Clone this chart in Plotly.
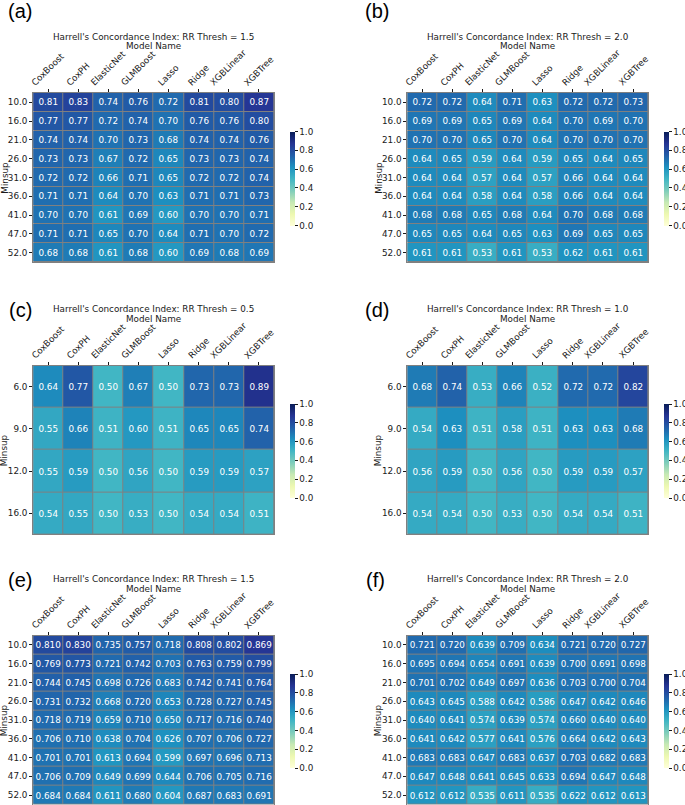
import plotly.graph_objects as go

W, H = 685, 805

models = ["CoxBoost", "CoxPH", "ElasticNet", "GLMBoost", "Lasso", "Ridge", "XGBLinear", "XGBTree"]
minsup_long = ["10.0", "16.0", "21.0", "26.0", "31.0", "36.0", "41.0", "47.0", "52.0"]
minsup_short = ["6.0", "9.0", "12.0", "16.0"]

# (a) RR Thresh = 1.5, 2 decimals
z_a = [
    [0.81, 0.83, 0.74, 0.76, 0.72, 0.81, 0.80, 0.87],
    [0.77, 0.77, 0.72, 0.74, 0.70, 0.76, 0.76, 0.80],
    [0.74, 0.74, 0.70, 0.73, 0.68, 0.74, 0.74, 0.76],
    [0.73, 0.73, 0.67, 0.72, 0.65, 0.73, 0.73, 0.74],
    [0.72, 0.72, 0.66, 0.71, 0.65, 0.72, 0.72, 0.74],
    [0.71, 0.71, 0.64, 0.70, 0.63, 0.71, 0.71, 0.73],
    [0.70, 0.70, 0.61, 0.69, 0.60, 0.70, 0.70, 0.71],
    [0.71, 0.71, 0.65, 0.70, 0.64, 0.71, 0.70, 0.72],
    [0.68, 0.68, 0.61, 0.68, 0.60, 0.69, 0.68, 0.69],
]
# (b) RR Thresh = 2.0, 2 decimals
z_b = [
    [0.72, 0.72, 0.64, 0.71, 0.63, 0.72, 0.72, 0.73],
    [0.69, 0.69, 0.65, 0.69, 0.64, 0.70, 0.69, 0.70],
    [0.70, 0.70, 0.65, 0.70, 0.64, 0.70, 0.70, 0.70],
    [0.64, 0.65, 0.59, 0.64, 0.59, 0.65, 0.64, 0.65],
    [0.64, 0.64, 0.57, 0.64, 0.57, 0.66, 0.64, 0.64],
    [0.64, 0.64, 0.58, 0.64, 0.58, 0.66, 0.64, 0.64],
    [0.68, 0.68, 0.65, 0.68, 0.64, 0.70, 0.68, 0.68],
    [0.65, 0.65, 0.64, 0.65, 0.63, 0.69, 0.65, 0.65],
    [0.61, 0.61, 0.53, 0.61, 0.53, 0.62, 0.61, 0.61],
]
# (c) RR Thresh = 0.5
z_c = [
    [0.64, 0.77, 0.50, 0.67, 0.50, 0.73, 0.73, 0.89],
    [0.55, 0.66, 0.51, 0.60, 0.51, 0.65, 0.65, 0.74],
    [0.55, 0.59, 0.50, 0.56, 0.50, 0.59, 0.59, 0.57],
    [0.54, 0.55, 0.50, 0.53, 0.50, 0.54, 0.54, 0.51],
]
# (d) RR Thresh = 1.0
z_d = [
    [0.68, 0.74, 0.53, 0.66, 0.52, 0.72, 0.72, 0.82],
    [0.54, 0.63, 0.51, 0.58, 0.51, 0.63, 0.63, 0.68],
    [0.56, 0.59, 0.50, 0.56, 0.50, 0.59, 0.59, 0.57],
    [0.54, 0.54, 0.50, 0.53, 0.50, 0.54, 0.54, 0.51],
]
# (e) RR Thresh = 1.5, 3 decimals
z_e = [
    [0.810, 0.830, 0.735, 0.757, 0.718, 0.808, 0.802, 0.869],
    [0.769, 0.773, 0.721, 0.742, 0.703, 0.763, 0.759, 0.799],
    [0.744, 0.745, 0.698, 0.726, 0.683, 0.742, 0.741, 0.764],
    [0.731, 0.732, 0.668, 0.720, 0.653, 0.728, 0.727, 0.745],
    [0.718, 0.719, 0.659, 0.710, 0.650, 0.717, 0.716, 0.740],
    [0.706, 0.710, 0.638, 0.704, 0.626, 0.707, 0.706, 0.727],
    [0.701, 0.701, 0.613, 0.694, 0.599, 0.697, 0.696, 0.713],
    [0.706, 0.709, 0.649, 0.699, 0.644, 0.706, 0.705, 0.716],
    [0.684, 0.684, 0.611, 0.680, 0.604, 0.687, 0.683, 0.691],
]
# (f) RR Thresh = 2.0, 3 decimals
z_f = [
    [0.721, 0.720, 0.639, 0.709, 0.634, 0.721, 0.720, 0.727],
    [0.695, 0.694, 0.654, 0.691, 0.639, 0.700, 0.691, 0.698],
    [0.701, 0.702, 0.649, 0.697, 0.636, 0.703, 0.700, 0.704],
    [0.643, 0.645, 0.588, 0.642, 0.586, 0.647, 0.642, 0.646],
    [0.640, 0.641, 0.574, 0.639, 0.574, 0.660, 0.640, 0.640],
    [0.641, 0.642, 0.577, 0.641, 0.576, 0.664, 0.642, 0.643],
    [0.683, 0.683, 0.647, 0.683, 0.637, 0.703, 0.682, 0.683],
    [0.647, 0.648, 0.641, 0.645, 0.633, 0.694, 0.647, 0.648],
    [0.612, 0.612, 0.535, 0.611, 0.535, 0.622, 0.612, 0.613],
]

ylgnbu = ["#ffffd9", "#edf8b1", "#c7e9b4", "#7fcdbb", "#41b6c4",
          "#1d91c0", "#225ea8", "#253494", "#081d58"]
cscale = [[i / 8, c] for i, c in enumerate(ylgnbu)]

FONT = "DejaVu Sans"
FS = 8.8
TXT = "#1a1a1a"

# panels: (letter, z, rows, fmt, thresh, left px, top px, bottom px)
panels = [
    ("(a)", z_a, minsup_long, ".2f", "1.5", 33.2, 93.0, 262.0),
    ("(b)", z_b, minsup_long, ".2f", "2.0", 407.3, 93.0, 262.0),
    ("(c)", z_c, minsup_short, ".2f", "0.5", 33.2, 365.6, 534.4),
    ("(d)", z_d, minsup_short, ".2f", "1.0", 407.3, 365.6, 534.4),
    ("(e)", z_e, minsup_long, ".3f", "1.5", 33.2, 635.6, 804.5),
    ("(f)", z_f, minsup_long, ".3f", "2.0", 407.3, 635.6, 804.5),
]
HM_W = 240.8


def px_x(p):
    return p / W


def px_y(p):
    return 1 - p / H


fig = go.Figure()
annotations = []
layout_axes = {}

for i, (letter, z, rows, fmt, thr, left, top, bottom) in enumerate(panels):
    n = i + 1
    xa = "x" if n == 1 else f"x{n}"
    ya = "y" if n == 1 else f"y{n}"
    right = left + HM_W
    cb_left = right + 15.5
    cb_mid = (top + bottom) / 2 + 1

    fig.add_trace(go.Heatmap(
        z=z, x=models, y=rows,
        xaxis=xa, yaxis=ya,
        colorscale=cscale, zmin=0, zmax=1,
        xgap=1, ygap=1,
        texttemplate="%{z:" + fmt + "}",
        textfont=dict(family=FONT, size=FS, color="white"),
        hoverinfo="skip",
        colorbar=dict(
            x=px_x(cb_left), xanchor="left", xpad=0,
            y=px_y(cb_mid), yanchor="middle", ypad=0,
            len=94, lenmode="pixels", thickness=5,
            outlinewidth=0,
            tickvals=[0, 0.2, 0.4, 0.6, 0.8, 1.0],
            ticktext=["0.0", "0.2", "0.4", "0.6", "0.8", "1.0"],
            ticks="outside", ticklen=3, tickwidth=0.8, tickcolor=TXT,
            tickfont=dict(family=FONT, size=FS, color=TXT),
        ),
    ))

    xkey = "xaxis" if n == 1 else f"xaxis{n}"
    ykey = "yaxis" if n == 1 else f"yaxis{n}"
    layout_axes[xkey] = dict(
        domain=[px_x(left), px_x(right)], anchor=ya, side="top",
        type="category", categoryorder="array", categoryarray=models,
        range=[-0.5, len(models) - 0.5], autorange=False,
        showticklabels=False, ticks="outside", ticklen=3, tickwidth=0.8,
        tickcolor=TXT, showgrid=False, zeroline=False,
        showline=True, linecolor="gray", linewidth=1, mirror=True,
        fixedrange=True,
    )
    layout_axes[ykey] = dict(
        domain=[px_y(bottom), px_y(top)], anchor=xa,
        type="category", categoryorder="array", categoryarray=rows,
        range=[len(rows) - 0.5, -0.5], autorange=False,
        ticks="outside", ticklen=3, tickwidth=0.8, tickcolor=TXT,
        tickfont=dict(family=FONT, size=FS, color=TXT),
        showgrid=False, zeroline=False,
        showline=True, linecolor="gray", linewidth=1, mirror=True,
        fixedrange=True,
    )

    # rotated x tick labels
    for m in models:
        annotations.append(dict(
            x=m, xref=xa, y=px_y(top - 4), yref="paper",
            text=m, textangle=-45, showarrow=False,
            xanchor="center", yanchor="bottom",
            font=dict(family=FONT, size=FS, color=TXT),
            borderpad=0,
        ))

    cx = px_x(left + HM_W / 2)
    annotations.append(dict(
        x=cx, xref="paper", y=px_y(top - 56.3), yref="paper",
        text=f"Harrell's Concordance Index: RR Thresh = {thr}",
        showarrow=False, xanchor="center", yanchor="middle",
        font=dict(family=FONT, size=FS, color=TXT),
    ))
    annotations.append(dict(
        x=cx, xref="paper", y=px_y(top - 47), yref="paper",
        text="Model Name", showarrow=False, xanchor="center", yanchor="middle",
        font=dict(family=FONT, size=FS, color=TXT),
    ))
    annotations.append(dict(
        x=px_x(left - 29), xref="paper", y=px_y((top + bottom) / 2), yref="paper",
        text="Minsup", textangle=-90, showarrow=False,
        xanchor="center", yanchor="middle",
        font=dict(family=FONT, size=FS, color=TXT),
    ))

letter_pos = {
    "(a)": (20, 11), "(b)": (377, 11),
    "(c)": (20, 310), "(d)": (377, 310),
    "(e)": (20, 579.5), "(f)": (375, 579.5),
}
for letter, (lx, ly) in letter_pos.items():
    annotations.append(dict(
        x=px_x(lx), xref="paper", y=px_y(ly), yref="paper",
        text=letter, showarrow=False, xanchor="center", yanchor="middle",
        font=dict(family="Liberation Sans", size=20, color="black"),
    ))

fig.update_layout(
    width=W, height=H, autosize=False,
    margin=dict(l=0, r=0, t=0, b=0, pad=0, autoexpand=False),
    paper_bgcolor="white", plot_bgcolor="gray",
    font=dict(family=FONT, size=FS, color=TXT),
    annotations=annotations,
    showlegend=False,
    **layout_axes,
)

fig.write_html(
    "out.html",
    config={"displayModeBar": False},
    post_script="document.body.style.margin='0';document.body.style.overflow='hidden';",
)
